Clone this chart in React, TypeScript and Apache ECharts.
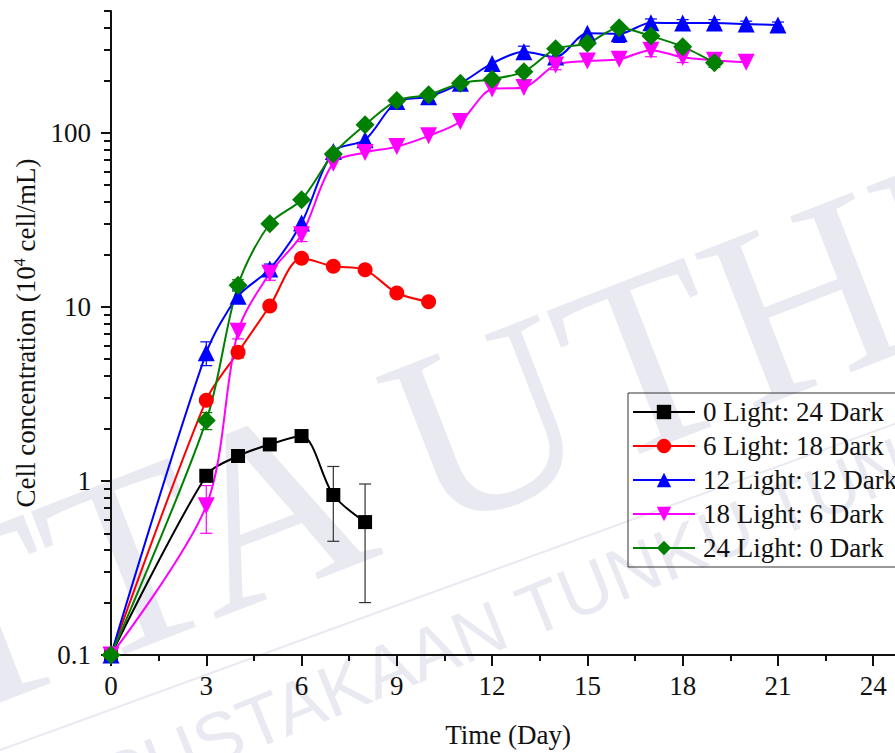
import React, { useEffect, useRef } from "react";
import * as echarts from "echarts";

const SERIF = '"Liberation Serif", "Times New Roman", serif';

// Photoperiod treatments (hours light : hours dark)
const seriesNames = [
  "0 Light: 24 Dark",
  "6 Light: 18 Dark",
  "12 Light: 12 Dark",
  "18 Light: 6 Dark",
  "24 Light: 0 Dark",
];

// Cell concentration (10^4 cell/mL) by culture day
const daysDark = [0, 3, 4, 5, 6, 7, 8];
const cellsDark = [0.1, 1.07, 1.39, 1.62, 1.81, 0.83, 0.58];

const days6L = [0, 3, 4, 5, 6, 7, 8, 9, 10];
const cells6L = [0.1, 2.91, 5.48, 10.1, 19.0, 17.1, 16.3, 12.0, 10.7];

const days12L = [0, 3, 4, 5, 6, 7, 8, 9, 10, 11, 12, 13, 14, 15, 16, 17, 18, 19, 20, 21];
const cells12L = [0.1, 5.44, 11.5, 16.5, 30.3, 78, 91, 151, 161, 192, 250, 292, 272, 372, 370, 428, 426, 426, 421, 416];

const days18L = [0, 3, 4, 5, 6, 7, 8, 9, 10, 11, 12, 13, 14, 15, 16, 17, 18, 19, 20];
const cells18L = [0.1, 0.72, 7.24, 15.6, 25.9, 66.8, 76.9, 83.2, 95.9, 116, 178, 182, 245, 258, 264, 298, 271, 261, 254];

const days24L = [0, 3, 4, 5, 6, 7, 8, 9, 10, 11, 12, 13, 14, 15, 16, 17, 18, 19];
const cells24L = [0.1, 2.22, 13.3, 30.0, 41.2, 75.5, 111, 153, 165, 192, 203, 224, 303, 326, 401, 359, 312, 252];

// Standard deviations: [day, sd]
const sdDark = [[3, 0.08], [4, 0.05], [7, 0.38], [8, 0.38]];
const sd6L = [[4, 0.4], [5, 0.5]];
const sd12L = [[3, 0.85], [4, 1.0], [5, 1.1], [13, 22], [16, 40], [17, 22], [18, 20], [19, 20], [20, 16], [21, 16]];
const sd18L = [[3, 0.22], [4, 0.7], [5, 1.4], [6, 2.2], [14, 15], [17, 25], [18, 18]];
const sd24L = [[3, 0.25], [4, 1.0], [19, 15]];

// Axis ticks
const xMajorTicks = [0, 3, 6, 9, 12, 15, 18, 21, 24];
const xMinorTicks = [1.5, 4.5, 7.5, 10.5, 13.5, 16.5, 19.5, 22.5];
const yMajorTicks = [0.1, 1, 10, 100];
const yMinorTicks = [
  0.2, 0.3, 0.4, 0.5, 0.6, 0.7, 0.8, 0.9,
  2, 3, 4, 5, 6, 7, 8, 9,
  20, 30, 40, 50, 60, 70, 80, 90,
  200, 300, 400, 500,
];

const styles = [
  { color: "#000000", barColor: "#333333", symbol: "rect", size: 14, rotate: 0 },
  { color: "#ff0000", barColor: "#ff0000", symbol: "circle", size: 15, rotate: 0 },
  { color: "#0000ff", barColor: "#0000ff", symbol: "triangle", size: 17, rotate: 0 },
  { color: "#ff00ff", barColor: "#ff00ff", symbol: "triangle", size: 17, rotate: 180 },
  { color: "#008000", barColor: "#008000", symbol: "diamond", size: 19, rotate: 0 },
];

const allDays = [daysDark, days6L, days12L, days18L, days24L];
const allCells = [cellsDark, cells6L, cells12L, cells18L, cells24L];
const allSd = [sdDark, sd6L, sd12L, sd18L, sd24L];

export default function App() {
  const ref = useRef<HTMLDivElement>(null);

  useEffect(() => {
    if (!ref.current) return;
    const chart = echarts.init(ref.current, null, { renderer: "svg" });

    const lineSeries = seriesNames.map((name, i) => {
      const st = styles[i];
      return {
        name,
        type: "line",
        data: allDays[i].map((d, k) => [d, allCells[i][k]]),
        smooth: 0.3,
        symbol: st.symbol,
        symbolSize: st.size,
        symbolRotate: st.rotate,
        showAllSymbol: true,
        lineStyle: { color: st.color, width: 2 },
        itemStyle: { color: st.color },
        z: 3,
        emphasis: { disabled: true },
      };
    });

    const errorSeries = seriesNames.map((name, i) => {
      const st = styles[i];
      const lookup = new Map<number, number>();
      allDays[i].forEach((d, k) => lookup.set(d, allCells[i][k]));
      const data = allSd[i].map(([d, sd]) => {
        const v = lookup.get(d) as number;
        return [d, Math.max(v - sd, 0.1001), v + sd];
      });
      return {
        name: name + " SD",
        type: "custom",
        xAxisIndex: 0,
        yAxisIndex: 0,
        silent: true,
        z: 2,
        data,
        renderItem: (_p: any, api: any) => {
          const x = api.value(0);
          const top = api.coord([x, api.value(2)]);
          const bot = api.coord([x, api.value(1)]);
          const w = 6;
          const style = { stroke: st.barColor, lineWidth: 1.2 };
          return {
            type: "group",
            children: [
              { type: "line", shape: { x1: top[0], y1: top[1], x2: bot[0], y2: bot[1] }, style },
              { type: "line", shape: { x1: top[0] - w, y1: top[1], x2: top[0] + w, y2: top[1] }, style },
              { type: "line", shape: { x1: bot[0] - w, y1: bot[1], x2: bot[0] + w, y2: bot[1] }, style },
            ],
          };
        },
      };
    });

    const axisText = { fontFamily: SERIF, fontSize: 27, color: "#111" };
    const wm = "#e9e9f2";

    chart.setOption({
      animation: false,
      backgroundColor: "#ffffff",
      grid: { left: 111, right: 25, top: 11, bottom: 97, containLabel: false },
      xAxis: [
        {
          type: "value",
          min: 0,
          max: 25,
          name: "Time (Day)",
          nameLocation: "middle",
          nameGap: 66,
          nameTextStyle: axisText,
          axisLine: { show: true, lineStyle: { color: "#111", width: 2 } },
          axisTick: { show: true, length: 11, lineStyle: { color: "#111", width: 2 }, customValues: xMajorTicks },
          axisLabel: { ...axisText, margin: 17, customValues: xMajorTicks },
          splitLine: { show: false },
        },
        {
          type: "value",
          min: 0,
          max: 25,
          position: "bottom",
          axisLine: { show: false },
          axisTick: { show: true, length: 6, lineStyle: { color: "#111", width: 2 }, customValues: xMinorTicks },
          axisLabel: { show: false },
          splitLine: { show: false },
        },
      ],
      yAxis: [
        {
          type: "log",
          logBase: 10,
          min: 0.1,
          max: 500,
          name: "{a|Cell concentration (10}{s|4}{a| cell/mL)}",
          nameLocation: "middle",
          nameGap: 70,
          nameTextStyle: {
            ...axisText,
            rich: {
              a: { fontFamily: SERIF, fontSize: 27, color: "#111", lineHeight: 30 },
              s: { fontFamily: SERIF, fontSize: 16, color: "#111", lineHeight: 16, verticalAlign: "top" },
            },
          },
          axisLine: { show: true, lineStyle: { color: "#111", width: 2 } },
          axisTick: { show: true, length: 10, lineStyle: { color: "#111", width: 2 }, customValues: yMajorTicks },
          axisLabel: {
            ...axisText,
            margin: 20,
            customValues: yMajorTicks,
            formatter: (v: number) => String(v),
          },
          splitLine: { show: false },
          minorTick: { show: false },
        },
        {
          type: "log",
          logBase: 10,
          min: 0.1,
          max: 500,
          position: "left",
          axisLine: { show: false },
          axisTick: { show: true, length: 7, lineStyle: { color: "#111", width: 2 }, customValues: yMinorTicks },
          axisLabel: { show: false },
          splitLine: { show: false },
        },
      ],
      legend: {
        data: seriesNames,
        orient: "vertical",
        left: 628,
        top: 393,
        padding: [5, 200, 5, 4],
        itemWidth: 62,
        itemHeight: 18,
        itemGap: 6,
        borderColor: "#333",
        borderWidth: 1,
        textStyle: { fontFamily: SERIF, fontSize: 27, color: "#111", lineHeight: 28, padding: [0, 0, 0, 3] },
        selectedMode: false,
      },
      graphic: [
        {
          type: "text",
          x: -175,
          y: 815,
          rotation: 0.37,
          z: -5,
          silent: true,
          style: {
            text: "PTTA UTHM",
            font: '255px "Liberation Serif", serif',
            fill: wm,
            align: "left",
            verticalAlign: "bottom",
          },
        },
        {
          type: "line",
          z: -5,
          silent: true,
          shape: { x1: 0, y1: 750, x2: 930, y2: 411 },
          style: { stroke: wm, lineWidth: 2 },
        },
        {
          type: "text",
          x: -20,
          y: 873,
          rotation: 0.385,
          z: -5,
          silent: true,
          style: {
            text: "PERPUSTAKAAN TUNKU TUN AMINAH",
            font: '72px "Liberation Sans", sans-serif',
            fill: wm,
            align: "left",
            verticalAlign: "bottom",
          },
        },
      ],
      series: [...errorSeries, ...lineSeries],
    });

    return () => chart.dispose();
  }, []);

  return (
    <div
      style={{
        position: "absolute",
        left: 0,
        top: 0,
        width: 895,
        height: 753,
        overflow: "hidden",
        background: "#fff",
      }}
    >
      <div ref={ref} style={{ width: 930, height: 753 }} />
    </div>
  );
}
